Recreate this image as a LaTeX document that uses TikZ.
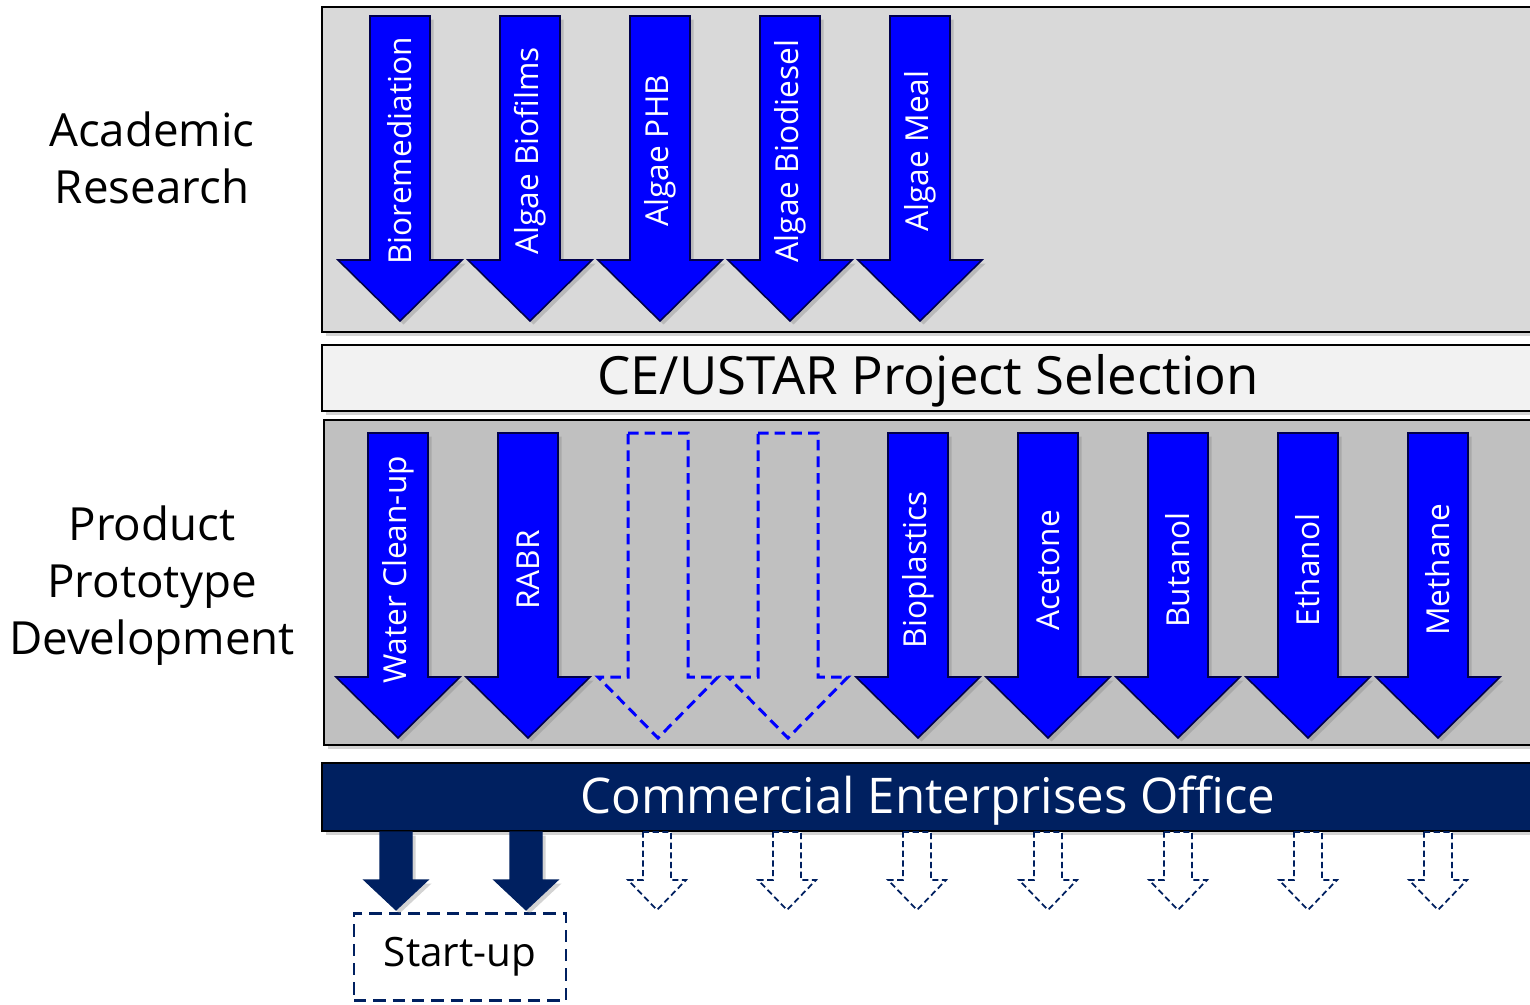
\documentclass[tikz,border=0pt]{standalone}
\usepackage{fontspec}
\setmainfont{Open Sans}
\usetikzlibrary{shadows, positioning}
\definecolor{researchgray}{RGB}{217,217,217}
\definecolor{protogray}{RGB}{192,192,192}
\definecolor{selectgray}{RGB}{242,242,242}
\definecolor{ceonavy}{RGB}{0,32,96}
\definecolor{prodblue}{RGB}{0,0,255}
\tikzset{
  panel/.style={draw=black, line width=1.3pt,
                drop shadow={opacity=0.35, shadow xshift=2pt, shadow yshift=-2pt}},
  bigarrow/.style={fill=prodblue, draw=black!70!blue, line width=0.9pt,
                   drop shadow={opacity=0.35, shadow xshift=2pt, shadow yshift=-2pt}},
  ghostarrow/.style={draw=prodblue, line width=1.7pt, dash pattern=on 6pt off 3.5pt},
  ceoarrow/.style={fill=ceonavy, draw=ceonavy, line width=0.6pt,
                   drop shadow={opacity=0.35, shadow xshift=2pt, shadow yshift=-2pt}},
  ceoghost/.style={fill=white, draw=ceonavy, line width=1pt, dash pattern=on 3.5pt off 2pt},
  arrowtext/.style={rotate=90, text=white, font=\fontsize{18}{20}\selectfont, inner sep=0pt},
  sidelabel/.style={align=center, font=\fontsize{26}{32.5}\selectfont, inner sep=0pt},
  barlabel/.style={font=\fontsize{30}{34}\selectfont, inner sep=0pt},
}
\begin{document}
\begin{tikzpicture}[x=0.02cm, y=-0.02cm]
\useasboundingbox (0,0) rectangle (1530,1004);

% panels
\draw[panel, fill=researchgray] (322,7) rectangle (1560,332);
\draw[panel, fill=selectgray] (322,345) rectangle (1560,411);
\draw[panel, fill=protogray] (324,420) rectangle (1560,745);
\draw[panel, fill=ceonavy] (322,763) rectangle (1560,831);

\node[sidelabel] (research) at (152,158) {Academic\\Research};
\node[sidelabel] (proto) at (152,586) {Product\\Prototype\\Development};
\node[barlabel] (select) at (928,381) {CE/USTAR Project Selection};
\node[barlabel, text=white, font=\fontsize{28}{32}\selectfont] (ceo) at (928,801) {Commercial Enterprises Office};

% academic research arrows
\foreach \cx/\name/\lbl in {400/biorem/Bioremediation, 530/biofilm/Algae Biofilms,
    660/phb/Algae PHB, 790/biodiesel/Algae Biodiesel, 920/meal/Algae Meal} {
  \draw[bigarrow] (\cx-30,16) -- (\cx+30,16) -- (\cx+30,260) -- (\cx+62,260)
    -- (\cx,321) -- (\cx-62,260) -- (\cx-30,260) -- cycle;
  \node[arrowtext] (\name) at (\cx,151) {\lbl};
}

% prototype arrows
\foreach \cx/\name/\lbl in {398/water/Water Clean-up, 528/rabr/RABR,
    918/bioplast/Bioplastics, 1048/acetone/Acetone, 1178/butanol/Butanol,
    1308/ethanol/Ethanol, 1438/methane/Methane} {
  \draw[bigarrow] (\cx-30,433) -- (\cx+30,433) -- (\cx+30,677) -- (\cx+62,677)
    -- (\cx,738) -- (\cx-62,677) -- (\cx-30,677) -- cycle;
  \node[arrowtext] (\name) at (\cx,570) {\lbl};
}
\foreach \cx in {658,788} {
  \draw[ghostarrow] (\cx-30,433) -- (\cx+30,433) -- (\cx+30,677) -- (\cx+60,677)
    -- (\cx,738) -- (\cx-60,677) -- (\cx-30,677) -- cycle;
}

% commercialisation
\node[draw=ceonavy, line width=1.5pt, dash pattern=on 7pt off 4pt,
      minimum width=4.24cm, minimum height=1.74cm,
      font=\fontsize{23}{26}\selectfont] (startup) at (460,957) {Start-up};
\foreach \cx in {396,526} {
  \draw[ceoarrow] (\cx-16,832) -- (\cx+16,832) -- (\cx+16,880) -- (\cx+32,880)
    -- (\cx,910) -- (\cx-32,880) -- (\cx-16,880) -- cycle;
}
\foreach \cx in {657,787,917,1048,1178,1308,1438} {
  \draw[ceoghost] (\cx-14,832) -- (\cx+14,832) -- (\cx+14,880) -- (\cx+29,880)
    -- (\cx,910) -- (\cx-29,880) -- (\cx-14,880) -- cycle;
}
\end{tikzpicture}
\end{document}
